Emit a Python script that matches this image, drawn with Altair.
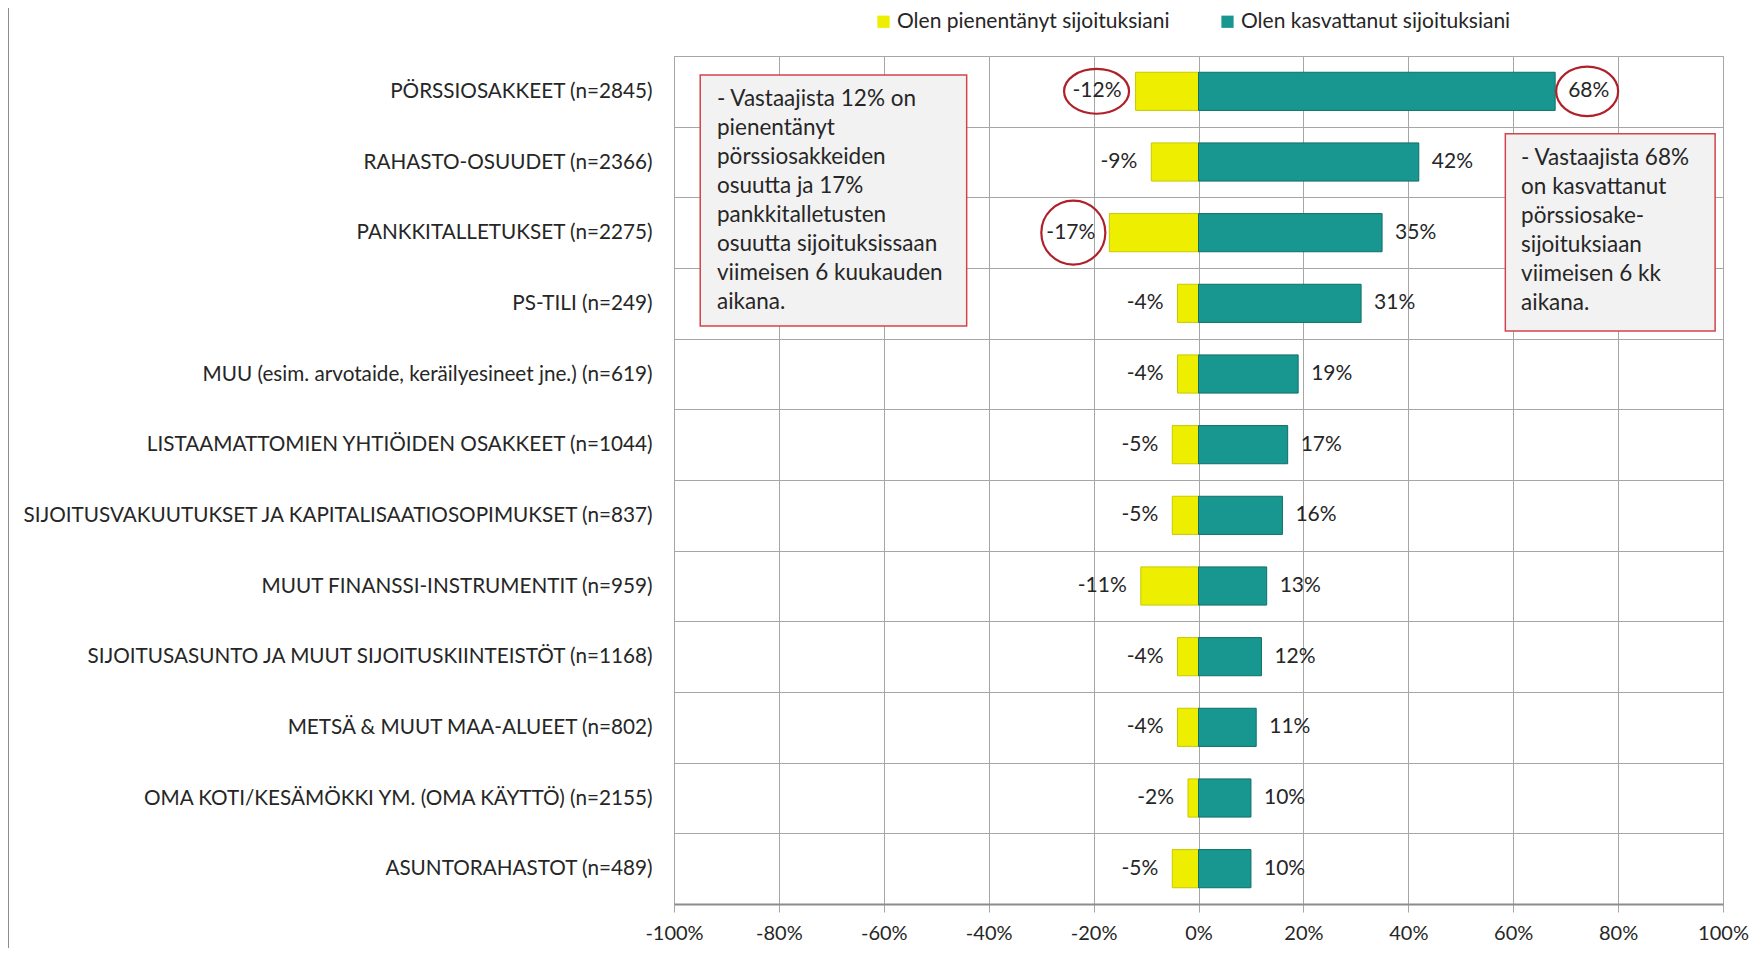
import altair as alt
import pandas as pd

categories = [
    "PÖRSSIOSAKKEET (n=2845)",
    "RAHASTO-OSUUDET (n=2366)",
    "PANKKITALLETUKSET (n=2275)",
    "PS-TILI (n=249)",
    "MUU (esim. arvotaide, keräilyesineet jne.) (n=619)",
    "LISTAAMATTOMIEN YHTIÖIDEN OSAKKEET (n=1044)",
    "SIJOITUSVAKUUTUKSET JA KAPITALISAATIOSOPIMUKSET (n=837)",
    "MUUT FINANSSI-INSTRUMENTIT (n=959)",
    "SIJOITUSASUNTO JA MUUT SIJOITUSKIINTEISTÖT (n=1168)",
    "METSÄ & MUUT MAA-ALUEET (n=802)",
    "OMA KOTI/KESÄMÖKKI YM. (OMA KÄYTTÖ) (n=2155)",
    "ASUNTORAHASTOT (n=489)",
]
decreased = [-12, -9, -17, -4, -4, -5, -5, -11, -4, -4, -2, -5]
increased = [68, 42, 35, 31, 19, 17, 16, 13, 12, 11, 10, 10]
series_names = ["Olen pienentänyt sijoituksiani", "Olen kasvattanut sijoituksiani"]
series_colors = ["#EEEE00", "#17978F"]
x_ticks = [-100, -80, -60, -40, -20, 0, 20, 40, 60, 80, 100]

note_texts = [
    "- Vastaajista 12% on\npienentänyt\npörssiosakkeiden\nosuutta ja 17%\npankkitalletusten\nosuutta sijoituksissaan\nviimeisen 6 kuukauden\naikana.",
    "- Vastaajista 68%\non kasvattanut\npörssiosake-\nsijoituksiaan\nviimeisen 6 kk\naikana.",
]
note_x1 = [-95, 58.5]
note_x2 = [-44.2, 98.5]
note_r1 = [0.27, 1.10]
note_r2 = [3.82, 3.89]
note_tx = [-91.8, 61.5]
note_ty = [0.45, 1.29]

circled = [
    (categories[0], series_names[0], -39, 0.69, 4225),
    (categories[2], series_names[0], -36, 1.0, 4100),
    (categories[0], series_names[1], 32, 0.8, 3844),
]

FONT = "Lato"

rows = []
for c, d, i in zip(categories, decreased, increased):
    rows.append({"cat": c, "series": series_names[0], "value": d, "label": f"{d}%"})
    rows.append({"cat": c, "series": series_names[1], "value": i, "label": f"{i}%"})
df = pd.DataFrame(rows)

notes = pd.DataFrame({
    "x1": note_x1, "x2": note_x2, "r1": note_r1, "r2": note_r2,
    "tx": note_tx, "ty": note_ty, "text": note_texts,
})

xscale = alt.Scale(domain=[-100, 100], nice=False)
yscale = alt.Scale(domain=categories, paddingInner=0, paddingOuter=0)

base = alt.Chart(df)

bars = base.mark_bar(strokeWidth=1, height={"band": 0.54}).encode(
    x=alt.X("value:Q", scale=xscale, stack=None,
            axis=alt.Axis(values=x_ticks, labelExpr="datum.value + '%'", title=None)),
    y=alt.Y("cat:N", scale=yscale, sort=categories, axis=alt.Axis(title=None)),
    color=alt.Color(
        "series:N",
        scale=alt.Scale(domain=series_names, range=series_colors),
        legend=alt.Legend(
            title=None, orient="none", direction="horizontal",
            legendX=199, legendY=-45, symbolType="square", symbolSize=150,
            symbolStrokeWidth=0, labelFontSize=21, labelFont=FONT,
            labelColor="#262626", columnPadding=47, labelOffset=3, labelLimit=500,
        ),
    ),
    stroke=alt.Stroke("series:N", scale=alt.Scale(domain=series_names,
                                                  range=["#C9C900", "#0F6F6A"]),
                      legend=None),
)

lab_neg = base.transform_filter(alt.datum.value < 0).mark_text(
    align="right", dx=-14, fontSize=21, font=FONT, color="#262626"
).encode(
    x=alt.X("value:Q", scale=xscale),
    y=alt.Y("cat:N", scale=yscale, sort=categories),
    text="label:N",
)
lab_pos = base.transform_filter(alt.datum.value > 0).mark_text(
    align="left", dx=13, fontSize=21, font=FONT, color="#262626"
).encode(
    x=alt.X("value:Q", scale=xscale),
    y=alt.Y("cat:N", scale=yscale, sort=categories),
    text="label:N",
)

ellipses = []
for cat, ser, off, ratio, size in circled:
    path = f"M-1,0A1,{ratio},0,1,1,1,0A1,{ratio},0,1,1,-1,0Z"
    ellipses.append(
        base.transform_filter(
            (alt.datum.cat == cat) & (alt.datum.series == ser)
        ).mark_point(shape=path, size=size, filled=False, stroke="#B0202A",
                     strokeWidth=2.2, opacity=1, xOffset=off).encode(
            x=alt.X("value:Q", scale=xscale),
            y=alt.Y("cat:N", scale=yscale, sort=categories),
        )
    )

main = alt.layer(bars, lab_neg, lab_pos, *ellipses)

rscale = alt.Scale(domain=[0, 12], reverse=True, nice=False, zero=False)
note_base = alt.Chart(notes)
note_rect = note_base.mark_rect(fill="#F2F2F2", stroke="#D0454C", strokeWidth=1.5).encode(
    x=alt.X("x1:Q", scale=xscale), x2="x2:Q",
    y=alt.Y("r1:Q", scale=rscale, axis=None), y2="r2:Q",
)
note_text = note_base.mark_text(
    align="left", baseline="top", fontSize=22.5, font=FONT, color="#262626",
    lineBreak="\n", lineHeight=29,
).encode(
    x=alt.X("tx:Q", scale=xscale),
    y=alt.Y("ty:Q", scale=rscale, axis=None),
    text="text:N",
)
note_layer = alt.layer(note_rect, note_text)

frame = alt.Chart(pd.DataFrame({"k": [0]})).mark_rule(color="#8C8C8C", strokeWidth=1).encode(
    x=alt.value(-665.5), y=alt.value(-56), y2=alt.value(904)
)

chart = alt.layer(main, note_layer, frame).resolve_scale(y="independent").properties(
    width=1049, height=848,
    padding={"left": 666, "top": 48, "right": 27, "bottom": 44},
    autosize=alt.AutoSizeParams(type="none"),
).configure_view(stroke="#A6A6A6", strokeWidth=1).configure_axisX(
    grid=True, gridColor="#A6A6A6", tickColor="#A6A6A6", tickSize=8,
    domainColor="#8C8C8C", domainWidth=2, labelFontSize=20, labelFont=FONT,
    labelColor="#262626", labelPadding=11, labelFlush=False,
).configure_axisY(
    grid=True, gridColor="#A6A6A6", ticks=False, domain=False, tickBand="extent",
    labelFontSize=20.7, labelFont=FONT, labelColor="#262626", labelPadding=22,
    labelLimit=0,
)

chart.save("out.html", embed_options={"renderer": "svg", "actions": False})
